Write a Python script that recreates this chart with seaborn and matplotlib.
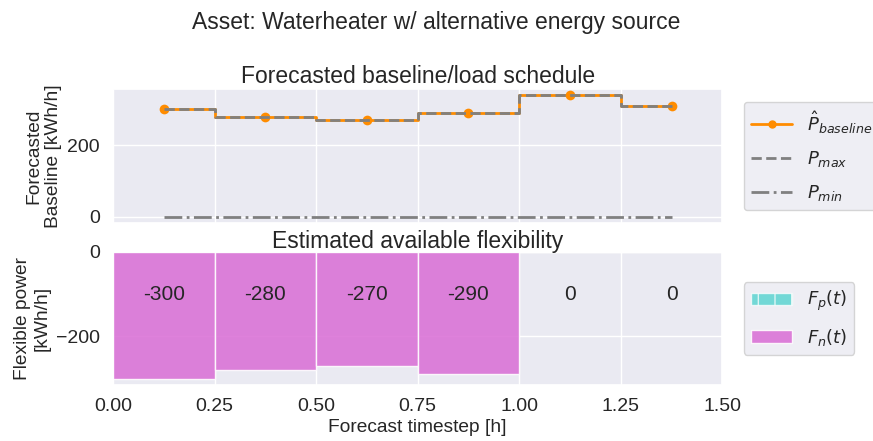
import numpy as np
import pandas as pd
import matplotlib
matplotlib.use("Agg")
import matplotlib.pyplot as plt
from matplotlib.patches import Patch
from matplotlib.lines import Line2D
import seaborn as sns

# Forecast horizon: start of each 15-minute step [h]
time_h = [0.0, 0.25, 0.5, 0.75, 1.0, 1.25]
step_h = 0.25

# Forecasted baseline and power bounds [kWh/h]
baseline = [300, 280, 270, 290, 340, 310]
p_max = [300, 280, 270, 290, 340, 310]
p_min = [0, 0, 0, 0, 0, 0]

# Estimated flexibility [kWh/h]
flex_pos = [0, 0, 0, 0, 0, 0]
flex_neg = [-300, -280, -270, -290, 0, 0]

sns.set_theme(style="darkgrid")
plt.rcParams["font.family"] = ["Liberation Sans", "DejaVu Sans"]
plt.rcParams["mathtext.fontset"] = "dejavusans"

TICK = 14
LABEL = 13.8
TITLE = 16.5
LEG = 13
LEG_KW = dict(loc="center left", bbox_to_anchor=(1.02, 0.5), fontsize=LEG,
              handlelength=2.3, handletextpad=0.8, labelspacing=0.75)

mid = [t + step_h / 2 for t in time_h]
df = pd.DataFrame({"t": mid, "baseline": baseline, "pmax": p_max,
                   "pmin": p_min, "fpos": flex_pos, "fneg": flex_neg})

fig = plt.figure(figsize=(8.73, 4.41), dpi=100)
ax1 = fig.add_axes([0.1294, 0.4943, 0.698, 0.304])
ax2 = fig.add_axes([0.1294, 0.127, 0.698, 0.3016], sharex=ax1)

# --- baseline / load schedule ---
sns.lineplot(data=df, x="t", y="baseline", ax=ax1, color="darkorange",
             drawstyle="steps-mid", marker="o", markersize=7,
             markeredgewidth=0, linewidth=2)
sns.lineplot(data=df, x="t", y="pmax", ax=ax1, color="gray",
             drawstyle="steps-mid", linestyle="--", linewidth=2)
sns.lineplot(data=df, x="t", y="pmin", ax=ax1, color="gray",
             drawstyle="steps-mid", linestyle="-.", linewidth=2)
ax1.set_title("Forecasted baseline/load schedule", fontsize=TITLE, pad=4)
ax1.set_ylabel("Forecasted\nBaseline [kWh/h]", fontsize=LABEL)
ax1.set_xlabel("")
ax1.set_yticks([0, 200])
ax1.tick_params(axis="x", labelbottom=False)
ax1.tick_params(axis="y", labelsize=TICK)

h1 = [Line2D([], [], color="darkorange", marker="o", markersize=5, lw=2),
      Line2D([], [], color="gray", ls="--", lw=2),
      Line2D([], [], color="gray", ls="-.", lw=2)]
ax1.legend(h1, [r"$\hat{P}_{baseline}$", r"$P_{max}$", r"$P_{min}$"], **LEG_KW)

# --- available flexibility ---
ax2.bar(time_h, flex_pos, width=step_h, align="edge", color="mediumturquoise",
        alpha=0.75, edgecolor="white", linewidth=1)
ax2.bar(time_h, flex_neg, width=step_h, align="edge", color="orchid",
        alpha=0.88, edgecolor="white", linewidth=1)
for t, v in zip(mid, flex_neg):
    ax2.text(t, -100, f"{v}", ha="center", va="center", fontsize=15,
             color="#262626")
ax2.set_title("Estimated available flexibility", fontsize=TITLE, pad=3)
ax2.set_ylabel("Flexible power\n[kWh/h]", fontsize=LABEL)
ax2.set_xlabel("Forecast timestep [h]", fontsize=LABEL, labelpad=3)
ax2.set_xlim(0, 1.5)
ax2.set_xticks([0, 0.25, 0.5, 0.75, 1.0, 1.25, 1.5])
ax2.set_yticks([0, -200])
ax2.tick_params(labelsize=TICK)

h2 = [Patch(facecolor="mediumturquoise", alpha=0.75, hatch="|",
            edgecolor="white"),
      Patch(facecolor="orchid", alpha=0.88)]
ax2.legend(h2, [r"$F_p(t)$", r"$F_n(t)$"], **LEG_KW)

fig.suptitle("Asset: Waterheater w/ alternative energy source", fontsize=TITLE,
             y=0.975)

fig.savefig("out.png", dpi=100)
